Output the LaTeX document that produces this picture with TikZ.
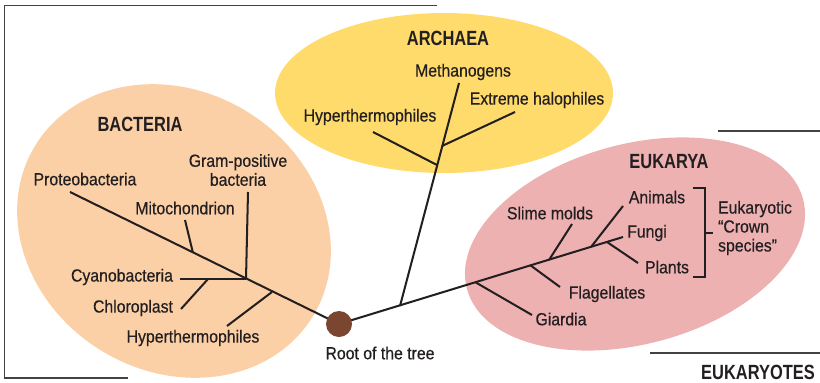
\documentclass[tikz,border=0pt]{standalone}
\usepackage{fontspec}
\setmainfont{Liberation Sans}[FakeStretch=0.9, FakeBold=0.5]
\newfontfamily\headfont{Liberation Sans}[FakeStretch=0.8]
\usepackage{xcolor}
\definecolor{ink}{HTML}{231F20}
\definecolor{bactfill}{HTML}{FCD0A6}
\definecolor{archfill}{HTML}{FEDB6B}
\definecolor{eukfill}{HTML}{EDB1B2}
\definecolor{rootbrown}{HTML}{7B4630}
\usetikzlibrary{shapes.geometric}

\begin{document}
\begin{tikzpicture}[
    x=0.02cm, y=-0.02cm,
    blob/.style={ellipse, inner sep=0pt, outer sep=0pt},
    bb/.style={blob, fill=bactfill, minimum width=6.52cm, minimum height=5.6cm, rotate=-32},
    ab/.style={blob, fill=archfill, minimum width=6.76cm, minimum height=3.2cm},
    eb/.style={blob, fill=eukfill, minimum width=6.96cm, minimum height=4.0cm, rotate=15},
    lbl/.style={font=\fontsize{10}{10.8}\selectfont, text=ink, align=center, inner sep=1pt},
    dom/.style={font=\headfont\bfseries\fontsize{11.7}{13}\selectfont, text=ink, inner sep=1pt},
    br/.style={draw=ink, line width=1.15pt},
    frame/.style={draw=ink!85, line width=0.85pt},
]
\useasboundingbox (0,0) rectangle (820,382);

% Domains
\node[bb] (bact) at (174,231) {};
\node[ab] (arch) at (444,93) {};
\node[eb] (euk) at (635,244) {};

% Frame
\draw[frame] (437,5.5) -- (4.5,5.5) -- (4.5,378) -- (128,378);
\draw[frame] (718,131) -- (820,131);
\draw[frame] (650,353) -- (820,353);

% Tree points
\coordinate (root) at (339,324);
\coordinate (proteo) at (70,192);
\coordinate (mitoJ) at (193,253);
\coordinate (mito) at (185,220);
\coordinate (gramJ) at (246,279);
\coordinate (gram) at (248,192);
\coordinate (cyano) at (180,279);
\coordinate (chloroJ) at (208,279);
\coordinate (chloro) at (181,309);
\coordinate (bhypJ) at (272,292);
\coordinate (bhyp) at (227,326);

\coordinate (fungi) at (623,237);
\coordinate (archJ) at (400,306);
\coordinate (giarJ) at (475,282);
\coordinate (giar) at (532,315);
\coordinate (flagJ) at (530,265);
\coordinate (flag) at (560,287);
\coordinate (slimeJ) at (549,260);
\coordinate (slime) at (572,224);
\coordinate (animJ) at (591,247);
\coordinate (anim) at (623,206);
\coordinate (plantJ) at (607,242);
\coordinate (plant) at (638,263);

\coordinate (metha) at (459,83);
\coordinate (ahypJ) at (437,165);
\coordinate (ahyp) at (373,132);
\coordinate (haloJ) at (442,146);
\coordinate (halo) at (515,112);

% Bacteria branches
\draw[br] (root) -- (proteo);
\draw[br] (mitoJ) -- (mito);
\draw[br] (gramJ) -- (gram);
\draw[br] (gramJ) -- (cyano);
\draw[br] (chloroJ) -- (chloro);
\draw[br] (bhypJ) -- (bhyp);

% Eukarya branches
\draw[br] (root) -- (fungi);
\draw[br] (giarJ) -- (giar);
\draw[br] (flagJ) -- (flag);
\draw[br] (slimeJ) -- (slime);
\draw[br] (animJ) -- (anim);
\draw[br] (plantJ) -- (plant);

% Archaea branches
\draw[br] (archJ) -- (metha);
\draw[br] (ahypJ) -- (ahyp);
\draw[br] (haloJ) -- (halo);

% Root
\fill[rootbrown] (root) circle (13);
\node[lbl] (rootlbl) at (380,353) {Root of the tree};

% Bacteria labels
\node[dom] (bactname) at (140,124) {BACTERIA};
\node[lbl] (proteolbl) at (85,179) {Proteobacteria};
\node[lbl] (gramlbl) at (238,170) {Gram-positive\\bacteria};
\node[lbl] (mitolbl) at (185,208) {Mitochondrion};
\node[lbl] (cyanolbl) at (122,277) {Cyanobacteria};
\node[lbl] (chlorolbl) at (133,308) {Chloroplast};
\node[lbl] (bhyplbl) at (193,338) {Hyperthermophiles};

% Archaea labels
\node[dom] (archname) at (448,38) {ARCHAEA};
\node[lbl] (methalbl) at (463,72) {Methanogens};
\node[lbl] (halolbl) at (537,100) {Extreme halophiles};
\node[lbl] (ahyplbl) at (370,117) {Hyperthermophiles};

% Eukarya labels
\node[dom] (eukname) at (669,162) {EUKARYA};
\node[lbl] (slimelbl) at (550,213) {Slime molds};
\node[lbl] (animlbl) at (657,197) {Animals};
\node[lbl] (fungilbl) at (647,233) {Fungi};
\node[lbl] (plantlbl) at (667,267) {Plants};
\node[lbl] (flaglbl) at (607,294) {Flagellates};
\node[lbl] (giarlbl) at (561,319) {Giardia};

% Crown bracket
\draw[draw=ink, line width=0.75pt] (693,188) -- (705,188) -- (705,277) -- (693,277);
\draw[draw=ink, line width=0.75pt] (705,233) -- (713,233);
\node[lbl, align=left, anchor=west] (crown) at (716,228) {Eukaryotic\\“Crown\\species”};

\node[dom] (eukaryotes) at (758,372) {EUKARYOTES};

\end{tikzpicture}
\end{document}
